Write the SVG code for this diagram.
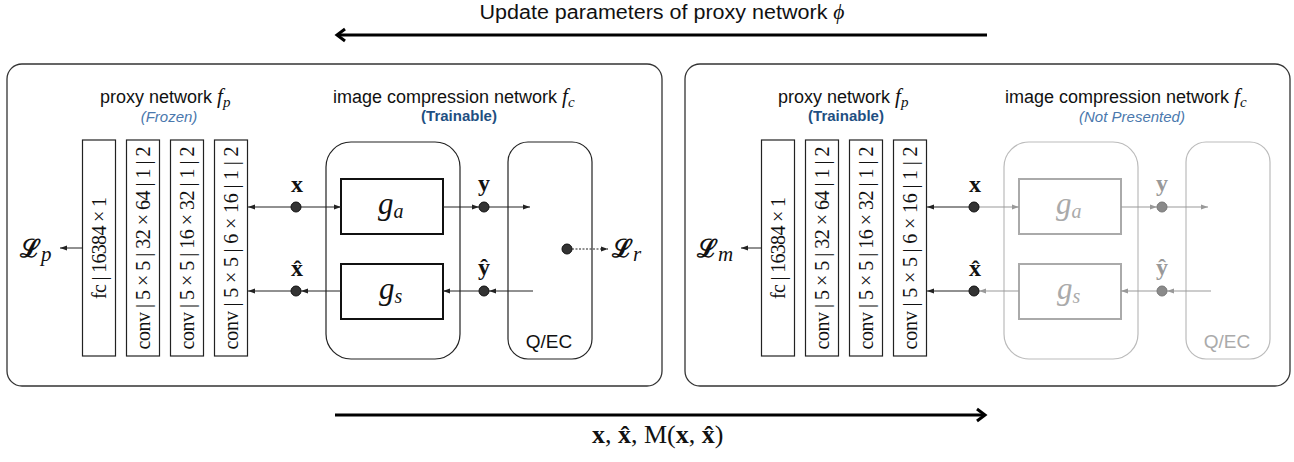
<svg xmlns="http://www.w3.org/2000/svg" width="1294" height="462" viewBox="0 0 1294 462">
<style>
.panel{fill:#fff;stroke:#333;stroke-width:1.3}
.layer{fill:#fff;stroke:#222;stroke-width:1.2}
.ltxt{font-family:"Liberation Serif","Times New Roman",serif;font-size:20px;fill:#111;text-anchor:middle}
.cont{fill:#fff;stroke:#222;stroke-width:1.2}
.contg{fill:#fff;stroke:#bbb;stroke-width:1.2}
.gbox{fill:#fff;stroke:#111;stroke-width:2}
.gboxg{fill:#fff;stroke:#aaa;stroke-width:2}
.sans{font-family:"Liberation Sans",Arial,sans-serif;fill:#111}
.head{font-size:18px}
.math{font-family:"Liberation Serif","Times New Roman",serif;font-style:italic}
.var{font-family:"Liberation Serif","Times New Roman",serif;font-weight:bold;font-size:24px;fill:#111;text-anchor:middle}
.varg{font-family:"Liberation Serif","Times New Roman",serif;font-weight:bold;font-size:24px;fill:#999;text-anchor:middle}
.loss{font-family:"DejaVu Serif",serif;font-weight:bold;font-size:25px;fill:#111}
.sub{font-family:"Liberation Serif","Times New Roman",serif;font-style:italic;font-weight:normal;font-size:21px}
.frozen{font-family:"Liberation Sans",Arial,sans-serif;font-style:italic;font-size:15px;fill:#4a78ad;text-anchor:middle}
.train{font-family:"Liberation Sans",Arial,sans-serif;font-weight:bold;font-size:15px;fill:#1f4f82;text-anchor:middle}
.dot{fill:#333;stroke:#111;stroke-width:1}
.dotg{fill:#8a8a8a;stroke:#777;stroke-width:1}
.ln{stroke:#222;stroke-width:1;fill:none}
.lng{stroke:#999;stroke-width:1;fill:none}
.big{stroke:#000;stroke-width:3;fill:none}
</style>
<defs>
<marker id="ah" viewBox="0 0 7 6" refX="7" refY="3" markerWidth="7" markerHeight="6" markerUnits="userSpaceOnUse" orient="auto"><path d="M0,0.5 L7,3 L0,5.5 z" fill="#222"/></marker>
<marker id="ahg" viewBox="0 0 7 6" refX="7" refY="3" markerWidth="7" markerHeight="6" markerUnits="userSpaceOnUse" orient="auto"><path d="M0,0.5 L7,3 L0,5.5 z" fill="#999"/></marker>
</defs>

<!-- top / bottom arrows -->
<g id="top-arrow">
<text class="sans" x="662" y="19" font-size="20" text-anchor="middle" textLength="365" lengthAdjust="spacingAndGlyphs">Update parameters of proxy network <tspan class="math">ϕ</tspan></text>
<line class="big" x1="337" y1="35" x2="987" y2="35"/>
<path class="big" d="M345,29 L337,35 L345,41" stroke-linejoin="miter"/>
</g>
<g id="bottom-arrow">
<line class="big" x1="335" y1="415" x2="985" y2="415"/>
<path class="big" d="M977,409 L985,415 L977,421"/>
<text x="592" y="443" font-family="'Liberation Serif','Times New Roman',serif" font-size="26" fill="#111"><tspan font-weight="bold">x</tspan>, <tspan font-weight="bold">x̂</tspan>, M(<tspan font-weight="bold">x</tspan>, <tspan font-weight="bold">x̂</tspan>)</text>
</g>

<!-- LEFT PANEL -->
<g id="left-panel">
<rect class="panel" x="7" y="64" width="655" height="322" rx="15"/>
<text class="sans head" x="100" y="103">proxy network <tspan class="math" font-size="21">f</tspan><tspan class="math" font-size="15" dy="4">p</tspan></text>
<text class="frozen" x="169" y="122">(Frozen)</text>
<text class="sans head" x="333" y="103">image compression network <tspan class="math" font-size="21">f</tspan><tspan class="math" font-size="15" dy="4">c</tspan></text>
<text class="train" x="459" y="121">(Trainable)</text>
</g>

<g id="L-fc"><rect class="layer" x="82.5" y="140" width="33" height="216"/><text class="ltxt" transform="translate(99,248) rotate(-90)" x="0" y="7" textLength="102" lengthAdjust="spacing">fc | 16384 × 1</text></g>
<g id="L-conv1"><rect class="layer" x="126.5" y="140" width="33" height="216"/><text class="ltxt" transform="translate(143,248) rotate(-90)" x="0" y="7" textLength="203" lengthAdjust="spacing">conv | 5 × 5 | 32 × 64 | 1 | 2</text></g>
<g id="L-conv2"><rect class="layer" x="170.5" y="140" width="33" height="216"/><text class="ltxt" transform="translate(187,248) rotate(-90)" x="0" y="7" textLength="203" lengthAdjust="spacing">conv | 5 × 5 | 16 × 32 | 1 | 2</text></g>
<g id="L-conv3"><rect class="layer" x="214.5" y="140" width="33" height="216"/><text class="ltxt" transform="translate(231,248) rotate(-90)" x="0" y="7" textLength="203" lengthAdjust="spacing">conv | 5 × 5 | 6 × 16 | 1 | 2</text></g>

<g id="L-codec"><rect class="cont" x="326" y="142" width="134" height="217" rx="25"/></g>
<g id="L-ga"><rect class="gbox" x="341" y="179" width="102" height="55"/><text x="378" y="214" class="math" font-size="31" fill="#111">g<tspan font-size="20" dy="4">a</tspan></text></g>
<g id="L-gs"><rect class="gbox" x="341" y="264" width="102" height="55"/><text x="379" y="299" class="math" font-size="31" fill="#111">g<tspan font-size="20" dy="4">s</tspan></text></g>
<g id="L-qec"><rect class="cont" x="508" y="142" width="84" height="217" rx="20"/><text class="sans" x="549" y="348" font-size="19" text-anchor="middle">Q/EC</text></g>

<g id="L-loss-p"><text class="loss" x="20" y="257">ℒ<tspan class="sub" dy="4">p</tspan></text></g>
<g id="L-loss-r"><text class="loss" x="612" y="257">ℒ<tspan class="sub" dy="4">r</tspan></text></g>

<g id="L-connectors">
<line class="ln" x1="83" y1="248" x2="60" y2="248" marker-end="url(#ah)"/>
<line class="ln" x1="291" y1="207" x2="248" y2="207" marker-end="url(#ah)"/>
<line class="ln" x1="301" y1="207" x2="341" y2="207" marker-end="url(#ah)"/>
<line class="ln" x1="443" y1="207" x2="479" y2="207" marker-end="url(#ah)"/>
<line class="ln" x1="489" y1="207" x2="530" y2="207" marker-end="url(#ah)"/>
<line class="ln" x1="533" y1="291" x2="489" y2="291" marker-end="url(#ah)"/>
<line class="ln" x1="479" y1="291" x2="443" y2="291" marker-end="url(#ah)"/>
<line class="ln" x1="341" y1="291" x2="301" y2="291" marker-end="url(#ah)"/>
<line class="ln" x1="291" y1="291" x2="248" y2="291" marker-end="url(#ah)"/>
<line class="ln" x1="572" y1="249" x2="608" y2="249" stroke-dasharray="2,1.5" marker-end="url(#ah)"/>
</g>
<g id="L-dots">
<circle class="dot" cx="296" cy="207" r="5"/>
<circle class="dot" cx="296" cy="291" r="5"/>
<circle class="dot" cx="484" cy="207" r="5"/>
<circle class="dot" cx="484" cy="291" r="5"/>
<circle class="dot" cx="567" cy="249" r="5"/>
<text class="var" x="297" y="192">x</text>
<text class="var" x="297" y="276">x̂</text>
<text class="var" x="484" y="191">y</text>
<text class="var" x="484" y="275">ŷ</text>
</g>

<!-- RIGHT PANEL -->
<g id="right-panel">
<rect class="panel" x="685" y="64" width="605" height="322" rx="15"/>
<text class="sans head" x="778" y="103">proxy network <tspan class="math" font-size="21">f</tspan><tspan class="math" font-size="15" dy="4">p</tspan></text>
<text class="train" x="846" y="121">(Trainable)</text>
<text class="sans head" x="1005" y="103">image compression network <tspan class="math" font-size="21">f</tspan><tspan class="math" font-size="15" dy="4">c</tspan></text>
<text class="frozen" x="1132" y="122">(Not Presented)</text>
</g>

<g id="R-fc"><rect class="layer" x="761.5" y="140" width="33" height="216"/><text class="ltxt" transform="translate(778,248) rotate(-90)" x="0" y="7" textLength="102" lengthAdjust="spacing">fc | 16384 × 1</text></g>
<g id="R-conv1"><rect class="layer" x="805.5" y="140" width="33" height="216"/><text class="ltxt" transform="translate(822,248) rotate(-90)" x="0" y="7" textLength="203" lengthAdjust="spacing">conv | 5 × 5 | 32 × 64 | 1 | 2</text></g>
<g id="R-conv2"><rect class="layer" x="849.5" y="140" width="33" height="216"/><text class="ltxt" transform="translate(866,248) rotate(-90)" x="0" y="7" textLength="203" lengthAdjust="spacing">conv | 5 × 5 | 16 × 32 | 1 | 2</text></g>
<g id="R-conv3"><rect class="layer" x="893.5" y="140" width="33" height="216"/><text class="ltxt" transform="translate(910,248) rotate(-90)" x="0" y="7" textLength="203" lengthAdjust="spacing">conv | 5 × 5 | 6 × 16 | 1 | 2</text></g>

<g id="R-codec"><rect class="contg" x="1004" y="142" width="134" height="217" rx="25"/></g>
<g id="R-ga"><rect class="gboxg" x="1019" y="179" width="102" height="55"/><text x="1056" y="214" class="math" font-size="31" fill="#aaa">g<tspan font-size="20" dy="4">a</tspan></text></g>
<g id="R-gs"><rect class="gboxg" x="1019" y="264" width="102" height="55"/><text x="1057" y="299" class="math" font-size="31" fill="#aaa">g<tspan font-size="20" dy="4">s</tspan></text></g>
<g id="R-qec"><rect class="contg" x="1186" y="142" width="84" height="217" rx="20"/><text class="sans" x="1227" y="348" font-size="19" text-anchor="middle" style="fill:#aaa">Q/EC</text></g>

<g id="R-loss-m"><text class="loss" x="697" y="257">ℒ<tspan class="sub" dy="4">m</tspan></text></g>

<g id="R-connectors">
<line class="ln" x1="762" y1="248" x2="741" y2="248" marker-end="url(#ah)"/>
<line class="ln" x1="969" y1="207" x2="927" y2="207" marker-end="url(#ah)"/>
<line class="lng" x1="979" y1="207" x2="1019" y2="207" marker-end="url(#ahg)"/>
<line class="lng" x1="1121" y1="207" x2="1157" y2="207" marker-end="url(#ahg)"/>
<line class="lng" x1="1167" y1="207" x2="1208" y2="207" marker-end="url(#ahg)"/>
<line class="lng" x1="1211" y1="291" x2="1167" y2="291" marker-end="url(#ahg)"/>
<line class="lng" x1="1157" y1="291" x2="1121" y2="291" marker-end="url(#ahg)"/>
<line class="lng" x1="1019" y1="291" x2="979" y2="291" marker-end="url(#ahg)"/>
<line class="ln" x1="969" y1="291" x2="927" y2="291" marker-end="url(#ah)"/>
</g>
<g id="R-dots">
<circle class="dot" cx="974" cy="207" r="5"/>
<circle class="dot" cx="974" cy="291" r="5"/>
<circle class="dotg" cx="1162" cy="207" r="5"/>
<circle class="dotg" cx="1162" cy="291" r="5"/>
<text class="var" x="975" y="192">x</text>
<text class="var" x="975" y="276">x̂</text>
<text class="varg" x="1162" y="191">y</text>
<text class="varg" x="1162" y="275">ŷ</text>
</g>
</svg>
